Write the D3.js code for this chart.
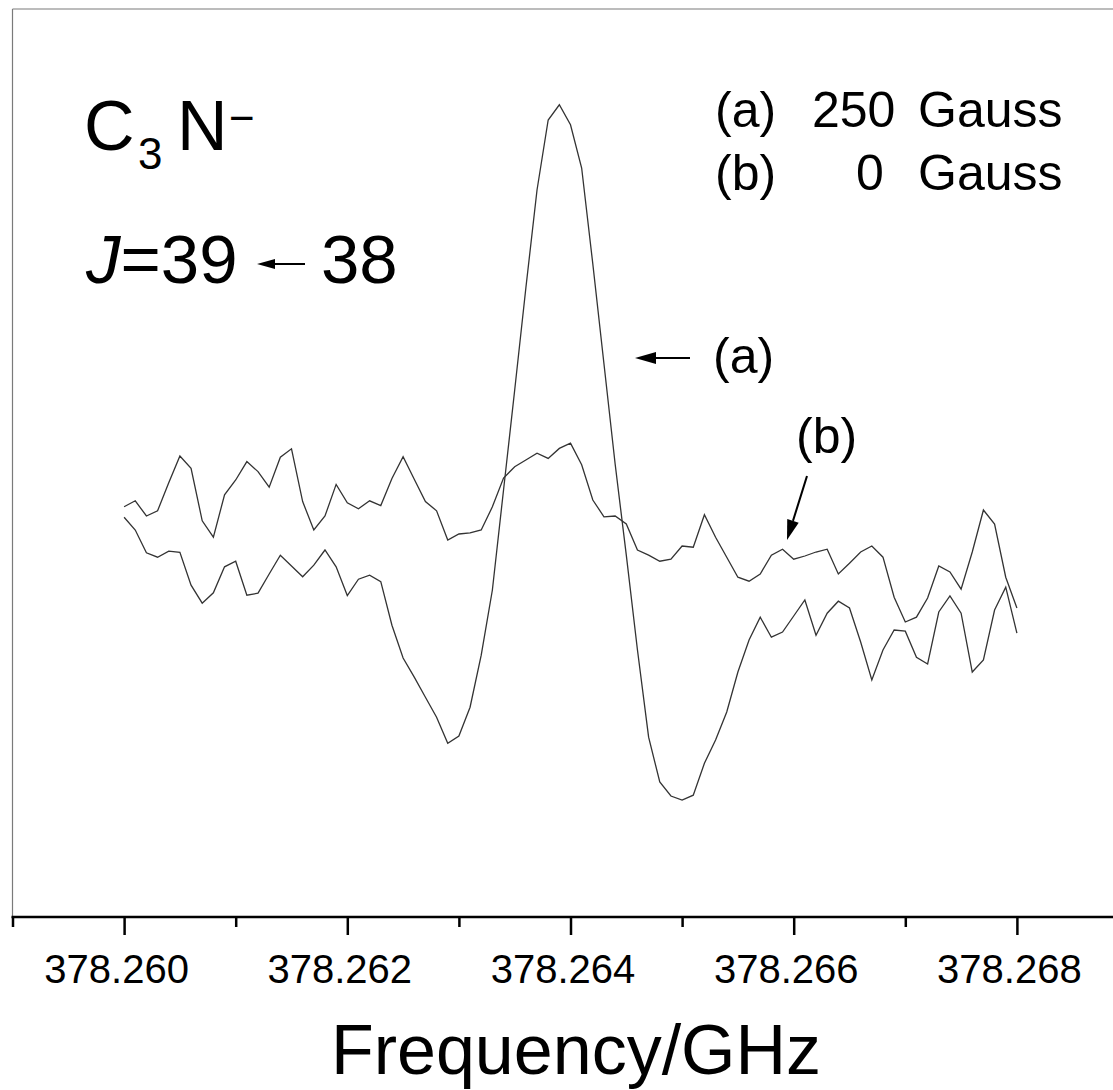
<!DOCTYPE html>
<html>
<head>
<meta charset="utf-8">
<script src="https://cdn.jsdelivr.net/npm/d3@7"></script>
<style>
  body { margin: 0; background: #fff; }
  svg { display: block; font-family: "Liberation Sans", Arial, sans-serif; }
</style>
</head>
<body>
<script>
// frequency grid of the scan (GHz)
const freqStart = 378.260;
const freqStep = 0.0001;

// (a) 250 Gauss, arbitrary intensity
const gauss250 = [
  0.007, -0.025, -0.082, -0.093, -0.078, -0.081, -0.163, -0.208, -0.182, -0.117,
  -0.103, -0.188, -0.183, -0.135, -0.088, -0.115, -0.142, -0.113, -0.075, -0.117,
  -0.189, -0.148, -0.138, -0.154, -0.263, -0.345, -0.393, -0.443, -0.493, -0.558,
  -0.540, -0.468, -0.338, -0.175, 0.075, 0.325, 0.580, 0.825, 1.000, 1.038,
  0.988, 0.880, 0.640, 0.390, 0.140, -0.088, -0.325, -0.543, -0.655, -0.690,
  -0.700, -0.688, -0.608, -0.550, -0.480, -0.380, -0.300, -0.243, -0.293, -0.280,
  -0.240, -0.200, -0.288, -0.233, -0.203, -0.220, -0.305, -0.400, -0.325, -0.275,
  -0.278, -0.343, -0.360, -0.230, -0.190, -0.233, -0.380, -0.350, -0.225, -0.168,
  -0.283
];

// (b) 0 Gauss
const gauss0 = [
  0.033, 0.048, 0.010, 0.023, 0.093, 0.160, 0.129, -0.002, -0.043, 0.063,
  0.100, 0.146, 0.121, 0.082, 0.157, 0.178, 0.046, -0.025, 0.010, 0.089,
  0.043, 0.028, 0.048, 0.036, 0.104, 0.158, 0.102, 0.046, 0.023, -0.050,
  -0.035, -0.032, -0.025, 0.033, 0.105, 0.133, 0.150, 0.167, 0.154, 0.179,
  0.192, 0.138, 0.050, 0.008, 0.010, -0.010, -0.075, -0.088, -0.103, -0.098,
  -0.065, -0.068, 0.013, -0.043, -0.093, -0.143, -0.153, -0.135, -0.088, -0.073,
  -0.098, -0.090, -0.080, -0.073, -0.135, -0.108, -0.080, -0.065, -0.093, -0.193,
  -0.255, -0.243, -0.195, -0.115, -0.130, -0.173, -0.080, 0.025, -0.010, -0.143,
  -0.220
];

const majorTicks = [378.260, 378.262, 378.264, 378.266, 378.268];
const minorTicks = [378.259, 378.261, 378.263, 378.265, 378.267, 378.269];

(function() {
  const width = 1113, height = 1090;
  const plotLeft = 12.5, plotTop = 9, plotBottom = 917;

  const svg = d3.select("body").append("svg")
    .attr("width", width)
    .attr("height", height);

  const x = d3.scaleLinear()
    .domain([378.259, 378.269])
    .range([plotLeft, plotLeft + 10 * 111.6]);

  const y = d3.scaleLinear()
    .domain([-0.9925, 1.2775])
    .range([plotBottom, plotTop]);

  // frame: left and top edges
  svg.append("line")
    .attr("x1", plotLeft).attr("x2", plotLeft).attr("y1", plotTop).attr("y2", plotBottom)
    .attr("stroke", "#7a7a7a").attr("stroke-width", 1.2);
  svg.append("line")
    .attr("x1", plotLeft).attr("x2", width).attr("y1", plotTop).attr("y2", plotTop)
    .attr("stroke", "#7a7a7a").attr("stroke-width", 1.2);

  // x axis, major and minor ticks
  const xMajor = d3.axisBottom(x)
    .tickValues(majorTicks)
    .tickSize(18)
    .tickPadding(20)
    .tickFormat(d3.format(".3f"));
  const xMinor = d3.axisBottom(x)
    .tickValues(minorTicks)
    .tickSize(10)
    .tickFormat("");

  const gMinor = svg.append("g")
    .attr("transform", `translate(0, ${plotBottom})`)
    .call(xMinor);
  const gMajor = svg.append("g")
    .attr("transform", `translate(0, ${plotBottom})`)
    .call(xMajor);

  [gMinor, gMajor].forEach(g => {
    g.select(".domain").remove();
    g.selectAll(".tick line").attr("stroke", "#000").attr("stroke-width", 2.5);
  });
  gMajor.selectAll(".tick text")
    .attr("font-size", 40)
    .attr("fill", "#000")
    .attr("dx", -8)
    .style("font-family", "'Liberation Sans', Arial, sans-serif");

  svg.append("line")
    .attr("x1", plotLeft - 1).attr("x2", width).attr("y1", plotBottom).attr("y2", plotBottom)
    .attr("stroke", "#000").attr("stroke-width", 2.6);

  // spectra
  const line = d3.line()
    .x((d, i) => x(freqStart + i * freqStep))
    .y(d => y(d));

  [gauss0, gauss250].forEach(series => {
    svg.append("path")
      .datum(series)
      .attr("fill", "none")
      .attr("stroke", "#333")
      .attr("stroke-width", 1.3)
      .attr("d", line);
  });

  // text labels
  function label(txt, tx, ty, size, anchor) {
    return svg.append("text")
      .attr("x", tx).attr("y", ty)
      .attr("font-size", size)
      .attr("fill", "#000")
      .attr("text-anchor", anchor || "start")
      .text(txt);
  }

  function arrow(x1, y1, x2, y2, headLen, headHalf) {
    const ang = Math.atan2(y2 - y1, x2 - x1);
    const bx = x2 - headLen * Math.cos(ang), by = y2 - headLen * Math.sin(ang);
    svg.append("line")
      .attr("x1", x1).attr("y1", y1).attr("x2", bx).attr("y2", by)
      .attr("stroke", "#000").attr("stroke-width", 2);
    const px = -Math.sin(ang) * headHalf, py = Math.cos(ang) * headHalf;
    svg.append("path")
      .attr("d", `M${x2},${y2}L${bx + px},${by + py}L${bx - px},${by - py}Z`)
      .attr("fill", "#000");
  }

  // molecule
  label("C", 84, 150, 70);
  label("3", 138, 169, 44);
  label("N", 177, 150, 70);
  label("\u2212", 229, 133, 44);

  // transition
  const jt = svg.append("text")
    .attr("x", 86).attr("y", 283)
    .attr("font-size", 69)
    .attr("fill", "#000");
  jt.append("tspan").attr("font-style", "italic").text("J");
  jt.append("tspan").text("=39");
  arrow(305, 264, 257, 264, 18, 5);
  label("38", 321, 283, 69);

  // legend
  label("(a)", 715, 127, 50);
  label("250", 812, 127, 50);
  label("Gauss", 918, 127, 50);
  label("(b)", 715, 190, 50);
  label("0", 856, 190, 50);
  label("Gauss", 918, 190, 50);

  // annotations
  label("(a)", 713, 373, 50);
  arrow(690, 358, 635, 358, 21, 6);
  label("(b)", 796, 453, 50);
  arrow(807, 476, 787, 540, 20, 6);

  // axis title
  label("Frequency/GHz", 576, 1074, 70, "middle");
})();
</script>
</body>
</html>
